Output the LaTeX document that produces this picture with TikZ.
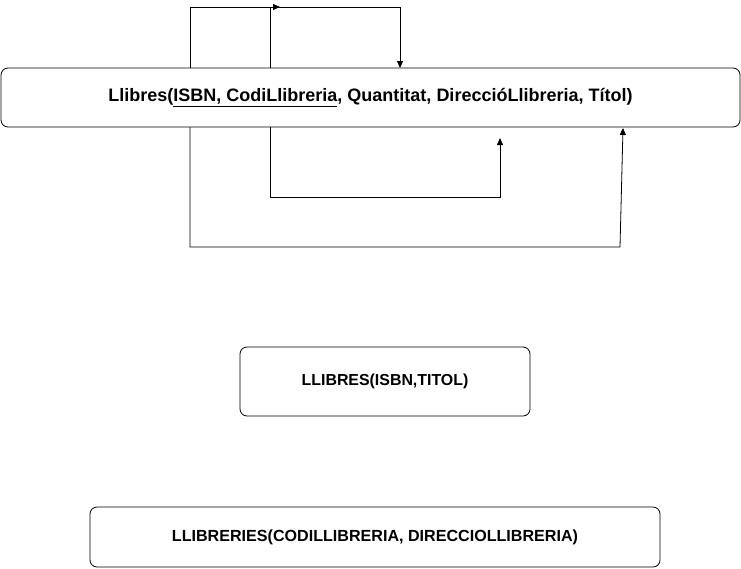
\documentclass[tikz,border=0pt]{standalone}
\usepackage{fontspec}
\setmainfont{Liberation Sans}
\usetikzlibrary{arrows.meta}
\newcommand\clau[1]{\underline{#1\vphantom{,}}}

\begin{document}
\begin{tikzpicture}[x=1pt,y=-1pt,
    rel/.style = {draw, rounded corners=7pt, line width=0.8pt, inner sep=0pt, outer sep=0pt, font=\bfseries},
    dep/.style = {line width=0.8pt, -{Triangle[length=7pt,width=6pt]}}]
    \useasboundingbox (0,0) rectangle (741,568);

    \node[rel, minimum width=739pt, minimum height=59pt, font=\bfseries\fontsize{18}{21}\selectfont] (llibres) at (370.5,97.5)
        {Llibres(\clau{ISBN}\clau{, CodiLlibreria}, Quantitat, DireccióLlibreria, Títol)};
    \node[rel, minimum width=290pt, minimum height=69pt, font=\bfseries\fontsize{15.9}{19}\selectfont] (llibres2) at (385,381.5)
        {LLIBRES(ISBN,TITOL)};
    \node[rel, minimum width=570pt, minimum height=60pt, font=\bfseries\fontsize{16.1}{19}\selectfont] (llibreries) at (375,537)
        {LLIBRERIES(CODILLIBRERIA, DIRECCIOLLIBRERIA)};

    % punts on surten i arriben les dependencies
    \coordinate (isbnT) at (llibres.north -| 190,0);
    \coordinate (codiT) at (llibres.north -| 270,0);
    \coordinate (quantT) at (llibres.north -| 400,0);
    \coordinate (dalt) at (280,7);
    \coordinate (isbnB) at (llibres.south -| 190,0);
    \coordinate (codiB) at (llibres.south -| 270,0);
    \coordinate (direccio) at (500,138);
    \coordinate (titol) at (623,128);

    \draw[dep] (isbnT) |- (dalt);
    \draw[dep] (codiT) -- (270,7) -| (quantT);
    \draw[dep] (codiB) |- (500,197) -- (direccio);
    \draw[dep] (isbnB) |- (620,247) -- (titol);
\end{tikzpicture}
\end{document}
